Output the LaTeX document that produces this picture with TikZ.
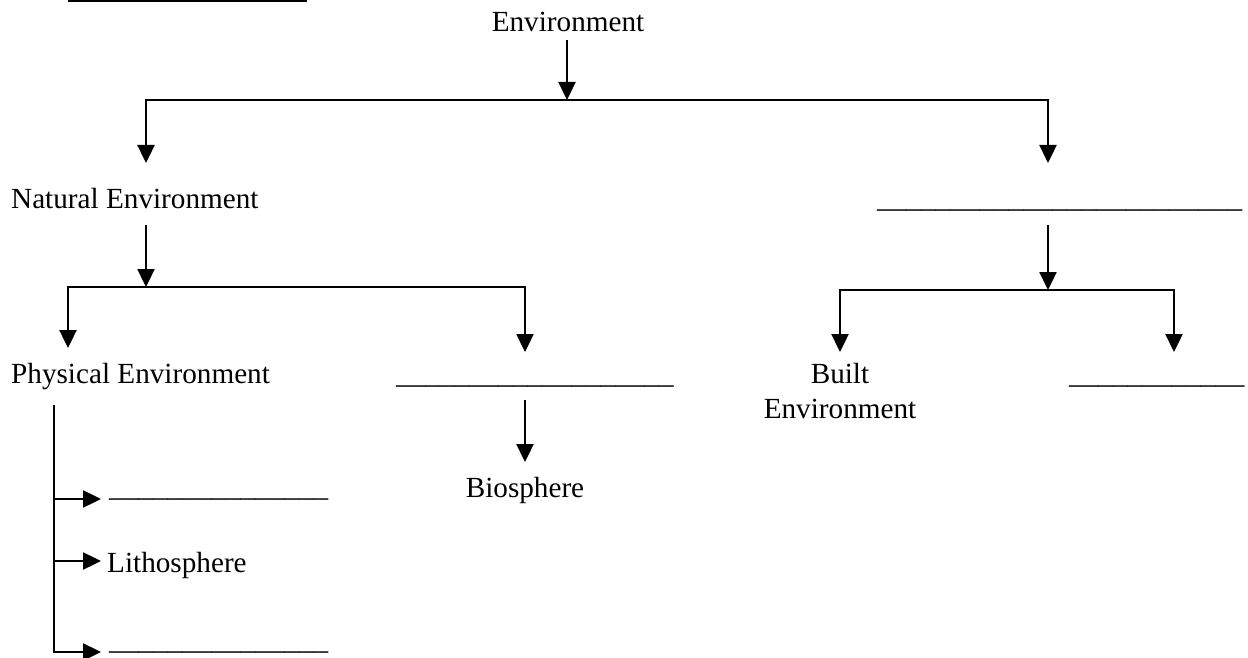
\documentclass[tikz,border=0pt]{standalone}
\usepackage{fontspec}
\setmainfont{Liberation Serif}
\usepackage{tikz}
\usetikzlibrary{arrows.meta,positioning}
\newcommand{\cmblank}[1]{\foreach \k in {1,...,#1}{\_}}
\tikzset{
  cm diagram/.style={x=0.5pt, y=-0.5pt,
    font=\fontsize{14.6}{17.5}\selectfont, line width=1.2pt},
  cm label/.style={inner sep=0pt, anchor=base},
  cm left/.style={cm label, anchor=base west},
  cm line/.style={draw=black, line width=1.2pt},
  cm arrow/.style={cm line, -{Triangle[length=9pt,width=8.5pt]}}
}
\begin{document}
\begin{tikzpicture}[cm diagram]
\useasboundingbox (0,0) rectangle (1248,658);
% heading rule (cut at the top)
\draw[cm line] (68,1) -- (307,1);
% labels
\node[cm label] (env) at (568,32) {Environment};
\node[cm left] (natural) at (10,208) {Natural Environment};
\node[cm left] (other) at (876,207) {\cmblank{25}};
\node[cm left] (physical) at (10,383) {Physical Environment};
\node[cm left] (social) at (395,383) {\cmblank{19}};
\node[cm label, anchor=north, align=center] (built) at (840,362) {Built\\Environment};
\node[cm left] (human) at (1068,383) {\cmblank{12}};
\node[cm label] (bio) at (525,497) {Biosphere};
\node[cm left] (hydro) at (108,496) {\cmblank{15}};
\node[cm left] (litho) at (106,572) {Lithosphere};
\node[cm left] (atmo) at (108,649) {\cmblank{15}};
% branch points
\coordinate (env out) at (567,40);
\coordinate (top fork) at (567,100);
\coordinate (natural in) at (146,163);
\coordinate (other in) at (1048,163);
\coordinate (natural out) at (146,225);
\coordinate (natural fork) at (146,287);
\coordinate (physical in) at (68,348);
\coordinate (social in) at (525,352);
\coordinate (other out) at (1048,225);
\coordinate (other fork) at (1048,290);
\coordinate (built in) at (840,352);
\coordinate (human in) at (1174,352);
\coordinate (social out) at (525,400);
\coordinate (bio in) at (525,462);
\coordinate (stem) at (54,405);
\coordinate (hydro in) at (101,499);
\coordinate (litho in) at (101,561);
\coordinate (atmo in) at (101,652);
% connectors
\draw[cm arrow] (env out) -- (top fork);
\draw[cm arrow] (top fork) -| (natural in);
\draw[cm arrow] (top fork) -| (other in);
\draw[cm arrow] (natural out) -- (natural fork);
\draw[cm arrow] (natural fork) -| (physical in);
\draw[cm arrow] (natural fork) -| (social in);
\draw[cm arrow] (other out) -- (other fork);
\draw[cm arrow] (other fork) -| (built in);
\draw[cm arrow] (other fork) -| (human in);
\draw[cm arrow] (social out) -- (bio in);
\draw[cm arrow] (stem) |- (atmo in);
\draw[cm arrow] (stem |- hydro in) -- (hydro in);
\draw[cm arrow] (stem |- litho in) -- (litho in);
\end{tikzpicture}
\end{document}
